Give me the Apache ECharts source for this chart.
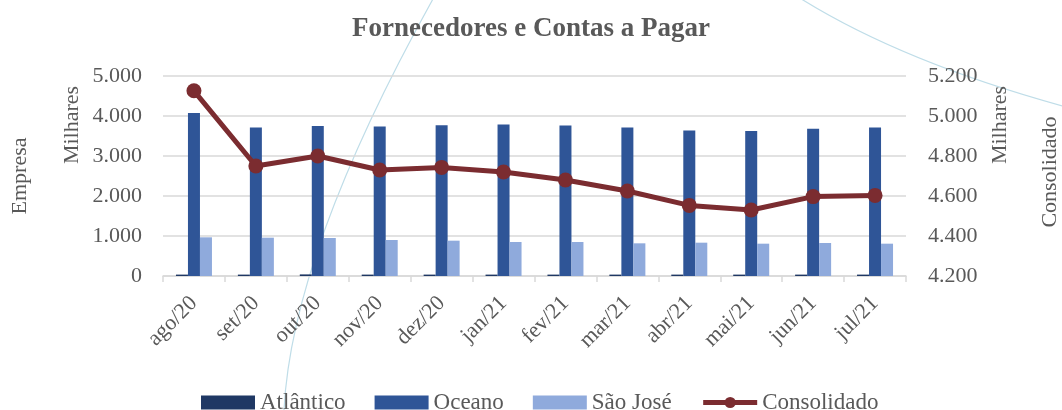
<!DOCTYPE html>
<html>
<head>
<meta charset="utf-8">
<script src="https://cdn.jsdelivr.net/npm/echarts@6/dist/echarts.min.js"></script>
<style>
  html, body { margin: 0; padding: 0; background: #fff; }
  #chart { width: 1062px; height: 410px; }
</style>
</head>
<body>
<div id="chart"></div>
<script>
const meses = ['ago/20', 'set/20', 'out/20', 'nov/20', 'dez/20', 'jan/21', 'fev/21', 'mar/21', 'abr/21', 'mai/21', 'jun/21', 'jul/21']
const atlantico = [35, 35, 40, 35, 35, 35, 35, 35, 35, 35, 35, 35]
const oceano = [4075, 3710, 3750, 3735, 3767, 3790, 3760, 3710, 3640, 3625, 3683, 3710]
const saoJose = [967, 958, 950, 900, 883, 850, 850, 817, 833, 808, 825, 808]
const consolidado = [5126, 4750, 4800, 4730, 4743, 4720, 4680, 4625, 4553, 4530, 4597, 4603]

const fonte = '"Liberation Serif", "DejaVu Serif", serif'
const cinza = '#595959'
const milhar = v => String(v).replace(/\B(?=(\d{3})+(?!\d))/g, '.')

// rotated axis names (two per side)
const nomeEixo = (texto, x, y) => ({
  type: 'text', x: x, y: y, rotation: Math.PI / 2, silent: true,
  style: { text: texto, fontFamily: fonte, fontSize: 22, fill: cinza, align: 'center', verticalAlign: 'middle' }
})

const myChart = echarts.init(document.getElementById('chart'))
const option = {
  animation: false,
  textStyle: { fontFamily: fonte },
  title: {
    text: 'Fornecedores e Contas a Pagar',
    left: 'center',
    top: 11,
    textStyle: { fontFamily: fonte, fontSize: 27, fontWeight: 'bold', color: cinza }
  },
  grid: { left: 163, right: 156, top: 76, bottom: 134 },
  legend: {
    top: 386,
    left: 196,
    itemWidth: 54,
    itemHeight: 14,
    itemGap: 29,
    textStyle: { fontFamily: fonte, fontSize: 23, color: cinza },
    data: [
      { name: 'Atlântico', icon: 'rect' },
      { name: 'Oceano', icon: 'rect' },
      { name: 'São José', icon: 'rect' },
      { name: 'Consolidado', lineStyle: { width: 5 } }
    ]
  },
  graphic: [
    {
      type: 'bezierCurve', z: -1, silent: true,
      shape: { x1: 284, y1: 410, x2: 438, y2: -10, cpx1: 292, cpy1: 250 },
      style: { stroke: '#bfdde8', lineWidth: 1.2, fill: null }
    },
    {
      type: 'bezierCurve', z: -1, silent: true,
      shape: { x1: 795, y1: -5, x2: 1070, y2: 108, cpx1: 900, cpy1: 62 },
      style: { stroke: '#bfdde8', lineWidth: 1.2, fill: null }
    },
    nomeEixo('Empresa', 20, 176),
    nomeEixo('Milhares', 72, 125),
    nomeEixo('Milhares', 1000, 125),
    nomeEixo('Consolidado', 1050, 172)
  ],
  xAxis: {
    type: 'category',
    data: meses,
    axisLine: { lineStyle: { color: '#d9d9d9', width: 1.5 } },
    axisTick: { show: true, length: 6, lineStyle: { color: '#d9d9d9', width: 1.5 } },
    axisLabel: { rotate: 45, margin: 24, fontFamily: fonte, fontSize: 22, color: cinza }
  },
  yAxis: [
    {
      type: 'value',
      min: 0,
      max: 5000,
      interval: 1000,
      axisLine: { show: false },
      axisTick: { show: false },
      splitLine: { lineStyle: { color: '#d9d9d9', width: 1.5 } },
      axisLabel: { margin: 21, fontFamily: fonte, fontSize: 22, color: cinza, formatter: milhar }
    },
    {
      type: 'value',
      min: 4200,
      max: 5200,
      interval: 200,
      axisLine: { show: false },
      axisTick: { show: false },
      splitLine: { show: false },
      axisLabel: { margin: 22, fontFamily: fonte, fontSize: 22, color: cinza, formatter: milhar }
    }
  ],
  series: [
    {
      name: 'Atlântico', type: 'bar', data: atlantico,
      barWidth: 12, barGap: '0%',
      itemStyle: { color: '#1f3864' }
    },
    {
      name: 'Oceano', type: 'bar', data: oceano,
      barWidth: 12, barGap: '0%',
      itemStyle: { color: '#2f5597' }
    },
    {
      name: 'São José', type: 'bar', data: saoJose,
      barWidth: 12, barGap: '0%',
      itemStyle: { color: '#8faadc' }
    },
    {
      name: 'Consolidado', type: 'line', yAxisIndex: 1, data: consolidado,
      symbol: 'circle', symbolSize: 15,
      lineStyle: { color: '#7b2c30', width: 5 },
      itemStyle: { color: '#7b2c30' }
    }
  ]
}
myChart.setOption(option)
</script>
</body>
</html>
